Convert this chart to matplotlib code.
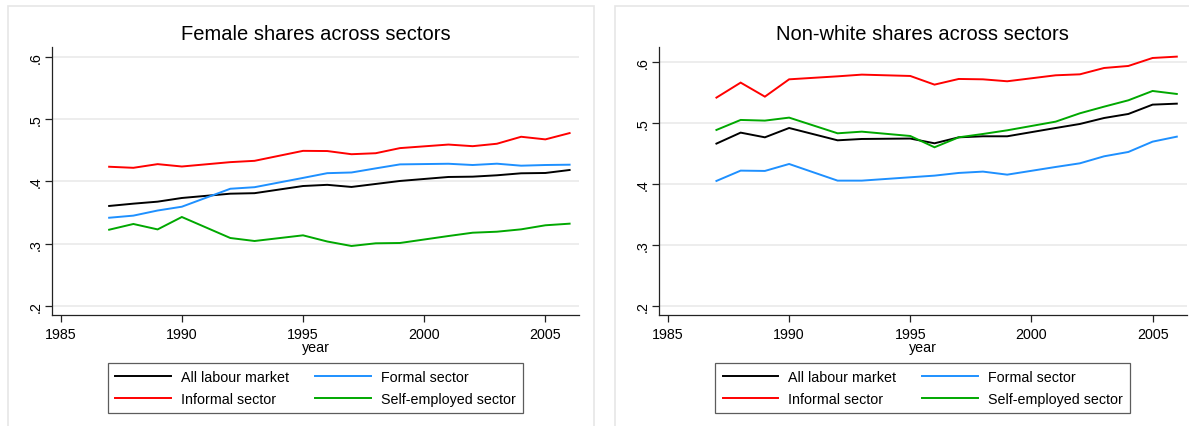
import matplotlib
matplotlib.use("Agg")
import matplotlib.pyplot as plt
from matplotlib.patches import Rectangle

plt.rcParams['font.family'] = ['Liberation Sans', 'DejaVu Sans']

# PNAD survey years (no survey in 1991, 1994, 2000)
years = [1987, 1988, 1989, 1990, 1992, 1993, 1995, 1996, 1997, 1998, 1999,
         2001, 2002, 2003, 2004, 2005, 2006]

# Female shares
fem_all = [0.3605, 0.3642, 0.3674, 0.3733, 0.3802, 0.3810, 0.3925, 0.3944, 0.3910,
           0.3958, 0.4006, 0.4070, 0.4075, 0.4097, 0.4129, 0.4134, 0.4182]
fem_formal = [0.3416, 0.3450, 0.3532, 0.3593, 0.3881, 0.3906, 0.4055, 0.4131, 0.4142,
              0.4208, 0.4272, 0.4282, 0.4262, 0.4283, 0.4251, 0.4262, 0.4267]
fem_informal = [0.4234, 0.4217, 0.4276, 0.4238, 0.4308, 0.4329, 0.4489, 0.4486, 0.4435,
                0.4451, 0.4533, 0.4590, 0.4564, 0.4603, 0.4715, 0.4673, 0.4774]
fem_self = [0.3224, 0.3316, 0.3229, 0.3428, 0.3091, 0.3043, 0.3134, 0.3035, 0.2963,
            0.3006, 0.3011, 0.3123, 0.3176, 0.3192, 0.3230, 0.3295, 0.3321]

# Non-white shares
nw_all = [0.4667, 0.4847, 0.4770, 0.4923, 0.4721, 0.4743, 0.4750, 0.4672, 0.4770,
          0.4787, 0.4787, 0.4923, 0.4989, 0.5087, 0.5153, 0.5306, 0.5322]
nw_formal = [0.4055, 0.4224, 0.4219, 0.4333, 0.4060, 0.4060, 0.4115, 0.4142, 0.4186,
             0.4208, 0.4158, 0.4284, 0.4344, 0.4459, 0.4530, 0.4699, 0.4781]
nw_informal = [0.5421, 0.5667, 0.5437, 0.5721, 0.5770, 0.5798, 0.5776, 0.5634, 0.5727,
               0.5721, 0.5689, 0.5787, 0.5803, 0.5907, 0.5940, 0.6071, 0.6093]
nw_self = [0.4891, 0.5055, 0.5044, 0.5093, 0.4836, 0.4863, 0.4792, 0.4607, 0.4770,
           0.4825, 0.4885, 0.5027, 0.5164, 0.5273, 0.5377, 0.5530, 0.5481]

series_names = ['All labour market', 'Formal sector', 'Informal sector', 'Self-employed sector']
series_colors = ['#000000', '#1e90ff', '#ff0000', '#00a800']
x_ticks = [1985, 1990, 1995, 2000, 2005]
y_ticks = [0.2, 0.3, 0.4, 0.5, 0.6]
y_tick_labels = ['.2', '.3', '.4', '.5', '.6']

W, H = 1189, 427
FS = 10.3
fig = plt.figure(figsize=(W / 100, H / 100), dpi=100)
fig.patch.set_facecolor('white')


def px_box(x0, y0, x1, y1):
    # pixel box (top-left origin) -> figure fraction [left, bottom, width, height]
    return [x0 / W, 1 - y1 / H, (x1 - x0) / W, (y1 - y0) / H]


# light graph-region borders
for x0, x1 in [(8.3, 594.3), (615.3, 1200)]:
    fig.patches.append(Rectangle((x0 / W, -0.1), (x1 - x0) / W, 1 - 7 / H + 0.1,
                                 transform=fig.transFigure, fill=False,
                                 edgecolor='#e6e6e6', linewidth=1.2))

panels = [
    dict(box=(51.7, 48.3, 579.3, 316), ylim=(0.1856, 0.615),
         title='Female shares across sectors',
         data=[fem_all, fem_formal, fem_informal, fem_self]),
    dict(box=(659, 48.3, 1186.5, 316), ylim=(0.1857, 0.6246),
         title='Non-white shares across sectors',
         data=[nw_all, nw_formal, nw_informal, nw_self]),
]

for p in panels:
    ax = fig.add_axes(px_box(*p['box']))
    handles = []
    for vals, name, col in zip(p['data'], series_names, series_colors):
        h, = ax.plot(years, vals, color=col, lw=1.4, label=name,
                     solid_joinstyle='miter', zorder=3)
        handles.append(h)
    ax.set_xlim(1984.63, 2006.4)
    ax.set_ylim(*p['ylim'])
    ax.set_xticks(x_ticks)
    ax.set_yticks(y_ticks)
    ax.set_yticklabels(y_tick_labels)
    ax.grid(axis='y', color='#e8e8e8', lw=1.1, zorder=0)
    ax.set_axisbelow(True)
    for s in ['top', 'right']:
        ax.spines[s].set_visible(False)
    for s in ['left', 'bottom']:
        ax.spines[s].set_color('#222222')
        ax.spines[s].set_linewidth(0.9)
    ax.tick_params(axis='both', length=4.8, width=0.9, color='#222222',
                   labelsize=FS, labelcolor='black')
    ax.tick_params(axis='x', pad=4)
    ax.tick_params(axis='y', labelrotation=90, pad=2)
    for lab in ax.get_yticklabels():
        lab.set_verticalalignment('center')
    ax.set_xlabel('year', fontsize=FS, labelpad=-1)

    x0, y0, x1, y1 = p['box']
    cx = (x0 + x1) / 2 / W
    fig.text(cx, 1 - 34 / H, p['title'], ha='center', va='center', fontsize=14.5)
    # two columns filled row by row: All / Formal, Informal / Self-employed
    order = [0, 2, 1, 3]
    leg = ax.legend(handles=[handles[i] for i in order],
                    labels=[series_names[i] for i in order],
                    ncol=2, loc='upper center', bbox_to_anchor=(cx, 1 - 364.3 / H),
                    bbox_transform=fig.transFigure, fontsize=FS, frameon=True,
                    fancybox=False, edgecolor='#333333', handlelength=3.9,
                    handletextpad=0.7, columnspacing=1.8, labelspacing=0.5,
                    borderpad=0.5, borderaxespad=0)
    leg.get_frame().set_linewidth(0.9)

fig.savefig('out.png', dpi=100, facecolor='white')
